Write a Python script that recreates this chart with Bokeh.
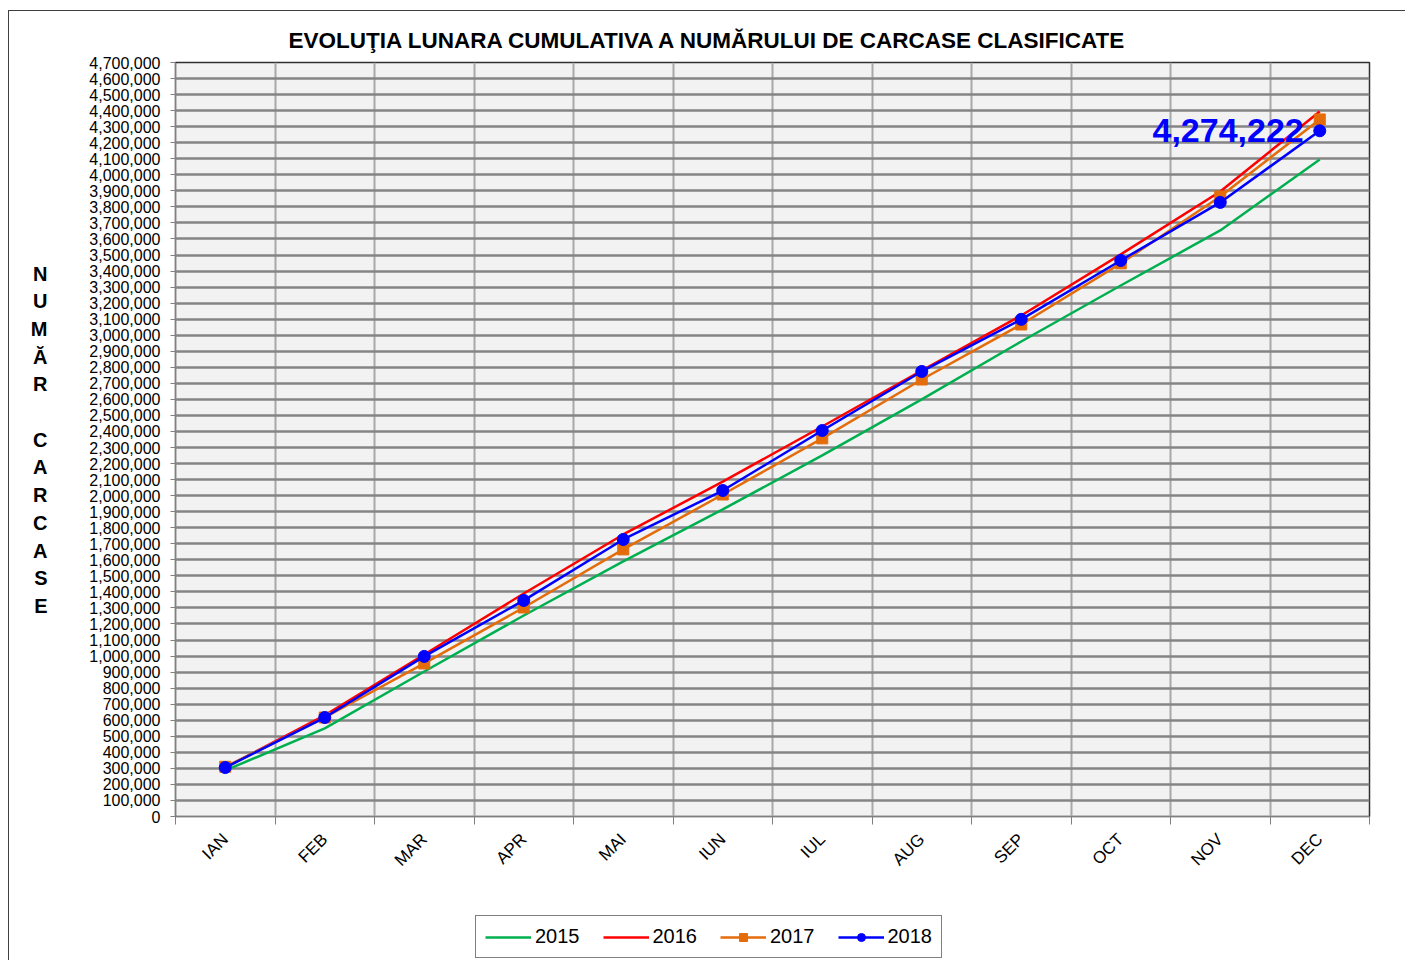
import math
from bokeh.plotting import figure
from bokeh.layouts import column
from bokeh.models import (FixedTicker, NumeralTickFormatter, Label, Legend,
                          LegendItem, Range1d, LinearAxis)
from bokeh.embed import file_html
from bokeh.resources import INLINE

months = ["IAN", "FEB", "MAR", "APR", "MAI", "IUN", "IUL", "AUG", "SEP", "OCT", "NOV", "DEC"]
y2015 = [287000, 549000, 904000, 1253000, 1590000, 1914000, 2251000, 2600000, 2961000, 3310000, 3653000, 4096000]
y2016 = [305000, 630000, 1010000, 1390000, 1758000, 2088000, 2431000, 2780000, 3123000, 3504000, 3896000, 4395000]
y2017 = [310000, 617000, 954000, 1303000, 1665000, 2007000, 2357000, 2724000, 3067000, 3448000, 3865000, 4345000]
y2018 = [305000, 617000, 998000, 1347000, 1727000, 2032000, 2406000, 2774000, 3099000, 3466000, 3828000, 4274222]
series_names = ["2015", "2016", "2017", "2018"]
title_text = "EVOLUŢIA LUNARA  CUMULATIVA A NUMĂRULUI DE CARCASE CLASIFICATE"
ylabel_letters = list("NUMĂR CARCASE")
y_max = 4700000
y_step = 100000

FONT = "Liberation Sans"
x = [i + 0.5 for i in range(len(months))]

GREEN, RED, ORANGE, BLUE = "#00B050", "#FF0000", "#E46C0A", "#0000FF"

p = figure(width=1397, height=895, x_range=Range1d(0, len(months)),
           y_range=Range1d(0, y_max), output_backend="svg", toolbar_location=None,
           min_border_left=166, min_border_right=37, min_border_top=51,
           min_border_bottom=90)
p.styles = {"border-left": "1px solid #404040", "border-top": "1px solid #404040",
            "margin-top": "10px", "margin-left": "8px"}
p.background_fill_color = "#f2f2f2"
p.border_fill_color = "white"
p.outline_line_color = "#303030"
p.outline_line_width = 1.5

# title
p.title.text = title_text
p.title.align = "left"
p.title.offset = 113
p.title.text_font = FONT
p.title.text_font_style = "bold"
p.title.text_font_size = "22.5px"
p.title.text_color = "black"
p.title.standoff = 20

# grids
p.ygrid.ticker = FixedTicker(ticks=list(range(0, y_max + 1, y_step)))
p.ygrid.grid_line_color = "#858585"
p.ygrid.grid_line_width = 2.5
p.xgrid.ticker = FixedTicker(ticks=list(range(len(months) + 1)))
p.xgrid.grid_line_color = "#a8a8a8"
p.xgrid.grid_line_width = 2

# y axis
ya = p.yaxis[0]
ya.ticker = FixedTicker(ticks=list(range(0, y_max + 1, y_step)))
ya.formatter = NumeralTickFormatter(format="0,0")
ya.major_label_text_font = FONT
ya.major_label_text_font_size = "16px"
ya.major_label_text_color = "black"
ya.axis_line_color = "#808080"
ya.major_tick_line_color = "#808080"
ya.major_tick_out = 5
ya.major_tick_in = 0
ya.minor_tick_line_color = None
ya.major_label_standoff = 10

# stacked vertical axis title, drawn as a label-only axis
letter_pos = [y_max * (543 - 27.7 * i) / 754 for i in range(len(ylabel_letters))]
lab_axis = LinearAxis(ticker=FixedTicker(ticks=letter_pos),
                      major_label_overrides={v: ch for v, ch in zip(letter_pos, ylabel_letters)},
                      axis_line_color=None, major_tick_line_color=None,
                      minor_tick_line_color=None, major_label_standoff=33,
                      major_label_text_font=FONT, major_label_text_font_style="bold",
                      major_label_text_font_size="20px", major_label_text_color="black",
                      major_label_text_align="center")
p.add_layout(lab_axis, "left")

# x axis
xa = p.xaxis[0]
xa.ticker = FixedTicker(ticks=x, minor_ticks=list(range(len(months) + 1)))
xa.major_label_overrides = {v: m for v, m in zip(x, months)}
xa.major_label_orientation = math.pi / 4
xa.major_label_text_font = FONT
xa.major_label_text_font_size = "17px"
xa.major_label_text_color = "black"
xa.major_tick_out = 0
xa.major_tick_in = 0
xa.minor_tick_out = 8
xa.minor_tick_in = 0
xa.minor_tick_line_color = "#808080"
xa.axis_line_color = "#808080"
xa.major_label_standoff = 12

# series
p.line(x, y2015, line_color=GREEN, line_width=2.5)
p.line(x, y2016, line_color=RED, line_width=2.5)
p.line(x, y2017, line_color=ORANGE, line_width=2.5)
p.scatter(x, y2017, marker="square", size=11, fill_color=ORANGE, line_color=ORANGE)
p.line(x, y2018, line_color=BLUE, line_width=2.5)
p.scatter(x, y2018, marker="circle", size=12, fill_color=BLUE, line_color=BLUE)

# value annotation
p.add_layout(Label(x=x[-1], y=y2018[-1], x_offset=-16, text=f"{y2018[-1]:,}",
                   text_align="right", text_baseline="middle", text_color=BLUE,
                   text_font=FONT, text_font_style="bold", text_font_size="34px"))

# legend strip (separate canvas below; proxies lie outside its visible range)
q = figure(width=1397, height=55, x_range=Range1d(0, 1), y_range=Range1d(0, 1),
           output_backend="svg", toolbar_location=None,
           min_border_left=0, min_border_right=0, min_border_top=0, min_border_bottom=0)
q.styles = {"border-left": "1px solid #404040", "margin-left": "8px"}
q.axis.visible = False
q.grid.visible = False
q.outline_line_color = None
q.background_fill_color = "white"
q.border_fill_color = "white"
px, py = [-5, -4], [-5, -5]
l15 = q.line(px, py, line_color=GREEN, line_width=2.5)
l16 = q.line(px, py, line_color=RED, line_width=2.5)
l17 = q.line(px, py, line_color=ORANGE, line_width=2.5)
m17 = q.scatter(px, py, marker="square", size=11, fill_color=ORANGE, line_color=ORANGE)
l18 = q.line(px, py, line_color=BLUE, line_width=2.5)
m18 = q.scatter(px, py, marker="circle", size=12, fill_color=BLUE, line_color=BLUE)

legend = Legend(items=[
    LegendItem(label=series_names[0], renderers=[l15]),
    LegendItem(label=series_names[1], renderers=[l16]),
    LegendItem(label=series_names[2], renderers=[l17, m17]),
    LegendItem(label=series_names[3], renderers=[l18, m18]),
], orientation="horizontal", location=(300, 2))
legend.label_text_font = FONT
legend.label_text_font_size = "20px"
legend.label_text_color = "black"
legend.glyph_width = 46
legend.glyph_height = 20
legend.label_standoff = 4
legend.spacing = 23
legend.padding = 9
legend.margin = 0
legend.border_line_color = "black"
legend.border_line_width = 1
legend.background_fill_color = "white"
q.add_layout(legend, "center")

layout = column(p, q, spacing=0)
open("out.html", "w").write(file_html(layout, INLINE))
